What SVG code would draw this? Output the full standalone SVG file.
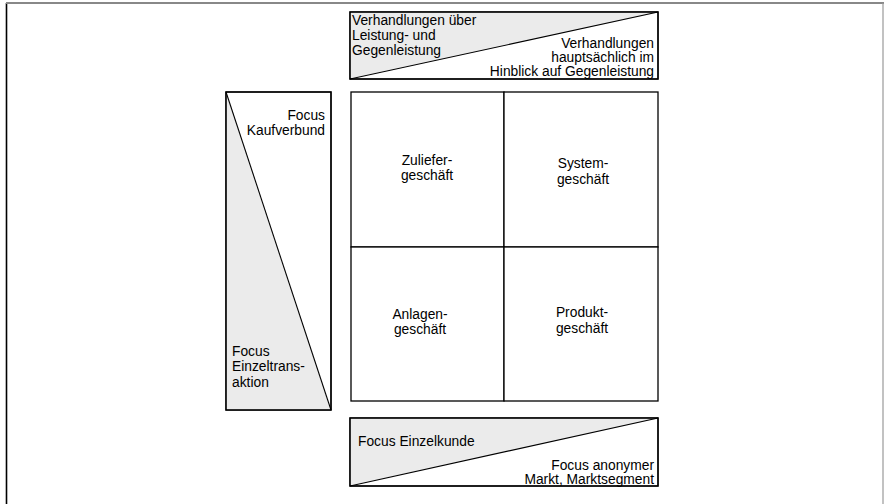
<svg xmlns="http://www.w3.org/2000/svg" width="884" height="504" viewBox="0 0 884 504">
<style>
.box{fill:#fff;stroke:#000;stroke-width:1.3}
.tri{fill:#ebebeb;stroke:none}
.diag{stroke:#000;stroke-width:1.1;fill:none}
text{font-family:"Liberation Sans",Arial,sans-serif;font-size:13.8px;fill:#000}
.r{text-anchor:end}
.c{text-anchor:middle}
</style>
<rect x="0" y="0" width="884" height="504" fill="#fff"/>
<g id="frame">
<line x1="6.5" y1="3" x2="6.5" y2="504" stroke="#000" stroke-width="1.6"/>
<line x1="6" y1="3" x2="884" y2="3" stroke="#888" stroke-width="2"/>
<line x1="883" y1="3" x2="883" y2="504" stroke="#999" stroke-width="1.2"/>
</g>
<g id="top-scale">
<rect class="box" x="350" y="12" width="308" height="67"/>
<polygon class="tri" points="350.7,12.7 657.3,12.7 350.7,78.3"/>
<line class="diag" x1="350" y1="79" x2="658" y2="12"/>
<rect x="350" y="12" width="308" height="67" fill="none" stroke="#000" stroke-width="1.3"/>
<text x="352" y="25">Verhandlungen über</text>
<text x="352" y="40">Leistung-   und</text>
<text x="352" y="55">Gegenleistung</text>
<text class="r" x="654" y="48">Verhandlungen</text>
<text class="r" x="654" y="62">hauptsächlich im</text>
<text class="r" x="654" y="76">Hinblick auf Gegenleistung</text>
</g>
<g id="left-scale">
<rect class="box" x="226" y="92" width="105" height="318"/>
<polygon class="tri" points="226.7,92.7 330.3,409.3 226.7,409.3"/>
<line class="diag" x1="226" y1="92" x2="331" y2="410"/>
<rect x="226" y="92" width="105" height="318" fill="none" stroke="#000" stroke-width="1.3"/>
<text class="r" x="325" y="120">Focus</text>
<text class="r" x="325" y="135">Kaufverbund</text>
<text x="232" y="356">Focus</text>
<text x="232" y="371">Einzeltrans-</text>
<text x="232" y="387">aktion</text>
</g>
<g id="zuliefer">
<rect class="box" x="351" y="92" width="153" height="155"/>
<text class="c" x="427" y="165">Zuliefer-</text>
<text class="c" x="427" y="180">geschäft</text>
</g>
<g id="system">
<rect class="box" x="504" y="92" width="154" height="155"/>
<text class="c" x="583" y="168">System-</text>
<text class="c" x="583" y="184">geschäft</text>
</g>
<g id="anlagen">
<rect class="box" x="351" y="247" width="153" height="154"/>
<text class="c" x="420" y="319">Anlagen-</text>
<text class="c" x="420" y="334">geschäft</text>
</g>
<g id="produkt">
<rect class="box" x="504" y="247" width="154" height="154"/>
<text class="c" x="582" y="317">Produkt-</text>
<text class="c" x="582" y="333">geschäft</text>
</g>
<g id="bottom-scale">
<rect class="box" x="350" y="418" width="308" height="68"/>
<polygon class="tri" points="350.7,418.7 657.3,418.7 350.7,485.3"/>
<line class="diag" x1="350" y1="486" x2="658" y2="418"/>
<rect x="350" y="418" width="308" height="68" fill="none" stroke="#000" stroke-width="1.3"/>
<text x="358" y="446">Focus Einzelkunde</text>
<text class="r" x="654" y="470">Focus anonymer</text>
<text class="r" x="654" y="484">Markt, Marktsegment</text>
</g>
<g id="connectors"></g>
</svg>
